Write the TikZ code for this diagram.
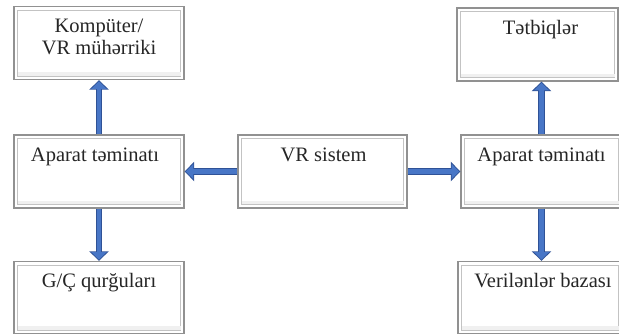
\documentclass[tikz,border=0pt]{standalone}
\usepackage{fontspec}
\setmainfont{Liberation Serif}
\usetikzlibrary{arrows.meta,calc}
\definecolor{arrowblue}{RGB}{72,118,198}
\definecolor{arrowdark}{RGB}{47,82,150}
\definecolor{boxline}{RGB}{145,145,145}
\definecolor{boxinner}{RGB}{195,195,195}
\tikzset{
  box/.style={draw=boxline, line width=1.3pt, fill=white, rectangle,
    minimum width=#1, minimum height=73pt, inner sep=0pt,
    path picture={
      \draw[boxinner, line width=0.9pt]
        ([shift={(3.5pt,-3.5pt)}]path picture bounding box.north west) rectangle
        ([shift={(-3.5pt,3.5pt)}]path picture bounding box.south east);
      \fill[black!6]
        ([shift={(3.5pt,3.5pt)}]path picture bounding box.south west) rectangle
        ([shift={(-3.5pt,7pt)}]path picture bounding box.south east);
    }},
  lbl/.style={font=\fontsize{20.5}{22}\selectfont, inner sep=0pt, text=black!85, anchor=base},
  flow/.style={draw=arrowblue, line width=4.6pt, -{Triangle[width=15pt,length=7.5pt]}, shorten >=1.3pt,
    preaction={draw=arrowdark, line width=6.6pt, -{Triangle[width=19pt,length=9.5pt]}, shorten >=0pt}}
}
\begin{document}
\begin{tikzpicture}[x=1pt,y=-1pt]
\useasboundingbox (0,0) rectangle (619,336);
% boxes
\node[box=170pt] (komp) at (99,43) {};
\node[box=170pt] (aparL) at (99,171.5) {};
\node[box=170pt, minimum height=72pt] (gc) at (99,297.5) {};
\node[box=169pt] (vr) at (322.5,171.5) {};
\node[box=161pt] (aparR) at (541.5,171.5) {};
\node[box=161pt] (tet) at (537.5,44.5) {};
\node[box=164pt, minimum height=72pt] (ver) at (540,297.5) {};
% labels
\node[lbl] (tkomp) at ($(komp.north)+(0,27)$) {\begin{tabular}[t]{@{}c@{}}Kompüter/\\VR mühərriki\end{tabular}};
\node[lbl] (taparL) at ($(aparL.north)+(-4,27)$) {Aparat təminatı};
\node[lbl] (tgc) at ($(gc.north)+(0,27)$) {G/Ç qurğuları};
\node[lbl] (tvr) at ($(vr.north)+(1,27)$) {VR sistem};
\node[lbl] (taparR) at ($(aparR.north)+(0,27)$) {Aparat təminatı};
\node[lbl] (ttet) at ($(tet.north)+(3,27)$) {Tətbiqlər};
\node[lbl] (tver) at ($(ver.north)+(3,27)$) {Verilənlər bazası};
% connectors
\draw[flow] (aparL.north) -- (aparL.north |- komp.south);
\draw[flow] (aparL.south) -- (aparL.south |- gc.north);
\draw[flow] (vr.west) -- (aparL.east);
\draw[flow] (vr.east) -- (aparR.west);
\draw[flow] (aparR.north) -- (aparR.north |- tet.south);
\draw[flow] (aparR.south) -- (aparR.south |- ver.north);
\end{tikzpicture}
\end{document}
